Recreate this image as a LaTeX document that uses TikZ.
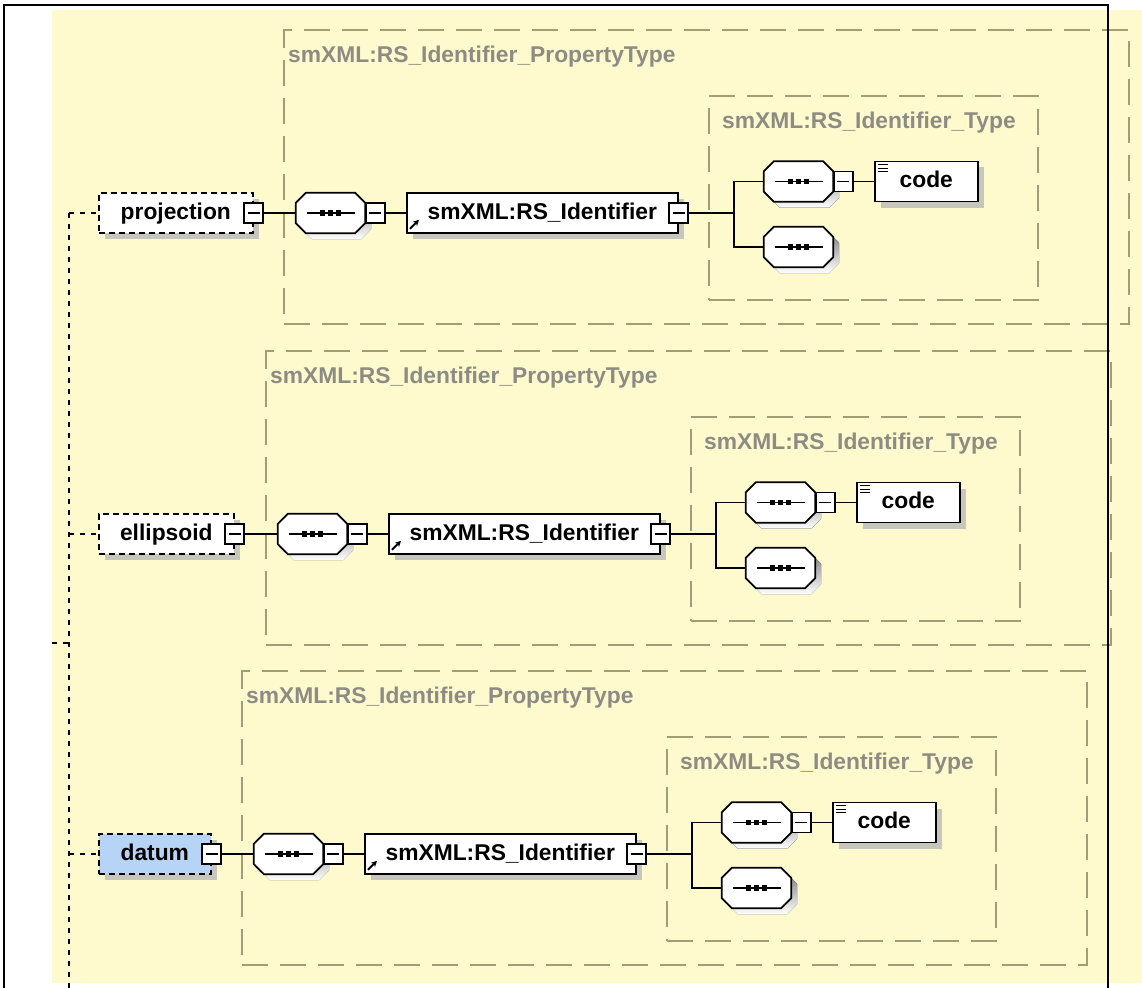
\documentclass[tikz,border=0pt]{standalone}
\usepackage{fontspec}
\setmainfont{Liberation Sans}
\usetikzlibrary{shadows,arrows.meta,calc}

\definecolor{paper}{RGB}{255,250,205}
\definecolor{frameline}{RGB}{162,157,118}
\definecolor{typetext}{RGB}{140,140,132}
\definecolor{shade}{RGB}{198,198,188}
\definecolor{picked}{RGB}{182,212,245}

\tikzset{
  sh/.style={drop shadow={shadow xshift=6pt,shadow yshift=-6pt,fill=shade,opacity=1}},
  typebox/.style={draw=frameline,line width=1.6pt,dash pattern=on 26pt off 12pt,
    anchor=north west,inner sep=0pt},
  typelabel/.style={anchor=west,inner sep=0pt,text=typetext,
    font=\fontsize{22.8}{26}\selectfont\bfseries},
  elem/.style={draw=black,line width=1.6pt,fill=white,sh,minimum height=40pt,
    inner sep=0pt,text height=16.5pt,text depth=4.5pt,
    font=\fontsize{22.8}{26}\selectfont\bfseries},
  optelem/.style={elem,dash pattern=on 6pt off 4pt},
  seqframe/.style={rectangle,minimum width=69pt,minimum height=40pt,inner sep=0pt},
  toggle/.style={draw,line width=1.5pt,fill=white,minimum width=19pt,minimum height=20pt,
    inner sep=0pt,
    path picture={\draw[line width=1.4pt] ([xshift=-6pt]path picture bounding box.center)
      -- ([xshift=6pt]path picture bounding box.center);}},
  wire/.style={line width=1.7pt},
  conn/.style={line width=1.8pt,dash pattern=on 5pt off 6pt},
}

% octagon outline of a sequence compositor, around node #1, moved by (#2,#3)
\newcommand\octo[3]{%
  ([shift={(10+#2,#3)}]#1.north west) -- ([shift={(-10+#2,#3)}]#1.north east)
  -- ([shift={(#2,10+#3)}]#1.north east) -- ([shift={(#2,-10+#3)}]#1.south east)
  -- ([shift={(-10+#2,#3)}]#1.south east) -- ([shift={(10+#2,#3)}]#1.south west)
  -- ([shift={(#2,-10+#3)}]#1.south west) -- ([shift={(#2,10+#3)}]#1.north west) -- cycle}

% sequence compositor: #1 name, #2 position
\newcommand\seqnode[2]{%
  \node[seqframe] (#1) at #2 {};
  \fill[shade] \octo{#1}{6}{6};
  \draw[line width=1.7pt,fill=white] \octo{#1}{0}{0};
  \draw[line width=1.8pt] ([xshift=-24pt]#1.center) -- ([xshift=24pt]#1.center);
  \foreach \d in {-8,0,8}
    \fill ([xshift=\d pt]#1.center) ++(-2.8,-2.8) rectangle ++(5.6,5.6);
}

% #1 id, #2 dx, #3 dy, #4 element name, #5 name box width, #6 name box fill
\newcommand\identgroup[6]{%
\begin{scope}[shift={(#2,#3)}]
  \node[typebox,minimum width=845pt,minimum height=294pt] (pt#1) at (283,29) {};
  \node[typelabel] (ptl#1) at (288,57) {smXML:RS\_Identifier\_PropertyType};
  \node[typebox,minimum width=329pt,minimum height=204pt] (ty#1) at (708,95) {};
  \node[typelabel] (tyl#1) at (722,123) {smXML:RS\_Identifier\_Type};

  \node[optelem,fill=#6,anchor=west,minimum width=#5pt] (nm#1) at ({98-(#2)},213) {#4\hspace{9pt}};
  \node[toggle] (nmt#1) at (nm#1.east) {};
  \seqnode{sq#1}{(330.5,213)}
  \node[toggle,anchor=west] (sqt#1) at (sq#1.east) {};
  \node[elem,anchor=west,minimum width=271pt] (id#1) at (406,213) {smXML:RS\_Identifier\hspace{9pt}};
  \node[toggle] (idt#1) at (id#1.east) {};
  \coordinate (br#1) at (734,213);
  \seqnode{cs#1}{(798.5,181.5)}
  \node[toggle,anchor=west] (cst#1) at (cs#1.east) {};
  \node[elem,anchor=west,minimum width=103pt] (cd#1) at (874,181.5) {code\hspace{16pt}};
  \seqnode{ce#1}{(798.5,247)}

  % reference arrow and text-content mark
  \draw[line width=2pt,-{Stealth[length=6pt,width=6pt]}]
    ([shift={(4,-5)}]id#1.south west) -- ++(9,-9);
  \foreach \k in {0,3.5,7}
    \draw[line width=1.2pt] ([shift={(4,4+\k)}]cd#1.north west) -- ++(10,0);

  \draw[wire] (nmt#1.east) -- (sq#1.west);
  \draw[wire] (sqt#1.east) -- (id#1.west);
  \draw[wire] (idt#1.east) -- (br#1);
  \draw[wire] (cs#1.west) -| (br#1) |- (ce#1.west);
  \draw[wire] (cst#1.east) -- (cd#1.west);
\end{scope}}

\begin{document}
\begin{tikzpicture}[x=1pt,y=-1pt]
  \useasboundingbox (0,0) rectangle (1142,987);
  \fill[white] (0,0) rectangle (1142,987);
  \fill[paper] (52,10) rectangle (1142,983);

  \identgroup{a}{0}{0}{projection}{154}{white}
  \identgroup{b}{-18}{321}{ellipsoid}{135}{white}
  \identgroup{c}{-42}{641}{datum}{112}{picked}

  % choice connector from the parent
  \coordinate (spineEnd) at (69,990);
  \coordinate (parentIn) at (52,643);
  \draw[conn] (nma.west -| spineEnd) -- (spineEnd);
  \draw[conn] (nma.west -| spineEnd) -- (nma.west);
  \draw[conn] (nmb.west -| spineEnd) -- (nmb.west);
  \draw[conn] (nmc.west -| spineEnd) -- (nmc.west);
  \draw[conn] (parentIn) -- (parentIn -| spineEnd);

  % window frame
  \draw[line width=2pt] (4,990) -- (4,5) -- (1108,5) -- (1108,990);
\end{tikzpicture}
\end{document}
